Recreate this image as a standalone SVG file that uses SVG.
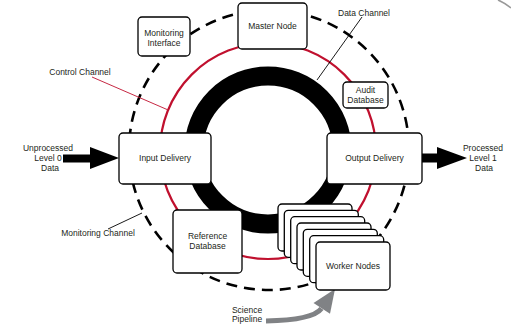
<svg xmlns="http://www.w3.org/2000/svg" width="511" height="324" viewBox="0 0 511 324">
<style>
  text { font-family: "Liberation Sans", Arial, sans-serif; font-size: 8.5px; fill: #231f20; text-anchor: middle; }
  .box { fill: #fff; stroke: #000; stroke-width: 1.3; }
  .lead { fill: none; stroke: #000; stroke-width: 0.9; }
  .leadred { fill: none; stroke: #c0102e; stroke-width: 0.9; }
</style>
<rect width="511" height="324" fill="#fff"/>
<g id="connectors">
  <circle cx="269" cy="150" r="140" fill="none" stroke="#000" stroke-width="2.6" stroke-dasharray="11 7"/>
  <circle cx="268" cy="151" r="108" fill="none" stroke="#c0102e" stroke-width="2.2"/>
  <circle cx="268" cy="150" r="74" fill="none" stroke="#000" stroke-width="19"/>
  <line class="leadred" x1="92" y1="77" x2="167" y2="109.5"/>
  <line class="lead" x1="362" y1="17" x2="317" y2="80"/>
  <line class="lead" x1="108" y1="229" x2="142" y2="213"/>
  <polygon points="63,154.5 90,154.5 90,147 119,158 90,169 90,162.5 63,162.5" fill="#000"/>
  <polygon points="422,153.5 437,153.5 437,147 467,158 437,169 437,162.5 422,162.5" fill="#000"/>
  <path d="M266,321 Q313,320 321.5,308.5" fill="none" stroke="#808285" stroke-width="5"/>
  <polygon points="335,289 313.5,303 330,313.8" fill="#808285"/>
  <path d="M498,0 Q505,3 511,8" fill="none" stroke="#999" stroke-width="1.6"/>
</g>
<g id="label-control-channel"><text x="80" y="75">Control Channel</text></g>
<g id="label-data-channel"><text x="364" y="16">Data Channel</text></g>
<g id="label-monitoring-channel"><text x="98" y="236">Monitoring Channel</text></g>
<g id="label-input"><text x="48" y="151">Unprocessed</text><text x="48" y="161">Level 0</text><text x="50" y="171">Data</text></g>
<g id="label-output"><text x="483" y="151">Processed</text><text x="483" y="161">Level 1</text><text x="484" y="171">Data</text></g>
<g id="label-science-pipeline"><text x="247" y="313">Science</text><text x="247" y="322">Pipeline</text></g>
<g id="master-node"><rect class="box" x="238" y="3" width="69" height="46" rx="4"/><text x="272.5" y="29">Master Node</text></g>
<g id="monitoring-interface"><rect class="box" x="138" y="17" width="52" height="39" rx="4"/><text x="164" y="35.5">Monitoring</text><text x="164" y="45.5">Interface</text></g>
<g id="audit-database"><rect class="box" x="343" y="82" width="45" height="26" rx="4"/><text x="365.5" y="93">Audit</text><text x="365.5" y="102.5">Database</text></g>
<g id="input-delivery"><rect class="box" x="119" y="133" width="92" height="51" rx="4"/><text x="165" y="161">Input Delivery</text></g>
<g id="output-delivery"><rect class="box" x="327" y="133" width="95" height="51" rx="4"/><text x="374.5" y="161">Output Delivery</text></g>
<g id="reference-database"><rect class="box" x="173" y="210" width="69" height="63" rx="4"/><text x="207.5" y="239">Reference</text><text x="207.5" y="249">Database</text></g>
<g id="worker-nodes">
  <rect class="box" x="278" y="204" width="74" height="47" rx="4"/>
  <rect class="box" x="284.3" y="210.3" width="74" height="47" rx="4"/>
  <rect class="box" x="290.7" y="216.7" width="74" height="47" rx="4"/>
  <rect class="box" x="297" y="223" width="74" height="47" rx="4"/>
  <rect class="box" x="303.3" y="229.3" width="74" height="47" rx="4"/>
  <rect class="box" x="309.7" y="235.7" width="74" height="47" rx="4"/>
  <rect class="box" x="316" y="242" width="74" height="48" rx="4"/>
  <text x="353" y="269">Worker Nodes</text>
</g>
</svg>
